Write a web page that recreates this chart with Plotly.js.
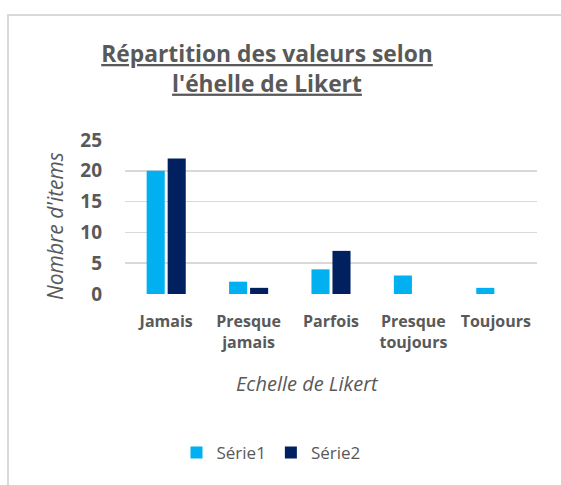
<!DOCTYPE html>
<html>
<head>
<meta charset="utf-8">
<script src="https://cdn.plot.ly/plotly-3.0.1.min.js"></script>
<style>
html,body{margin:0;padding:0;background:#fff;}
#wrap{position:relative;width:561px;height:485px;overflow:hidden;}
#chart{position:absolute;left:0;top:0;width:561px;height:485px;}
#frame{position:absolute;left:7px;top:14px;width:600px;height:600px;border-left:2px solid #d9d9d9;border-top:2px solid #d9d9d9;pointer-events:none;}
</style>
</head>
<body>
<div id="wrap"><div id="chart"></div><div id="frame"></div></div>
<script>
const categories = ['Jamais', 'Presque<br>jamais', 'Parfois', 'Presque<br>toujours', 'Toujours'];
const serie1 = [20, 2, 4, 3, 1];
const serie2 = [22, 1, 7, 0, 0];
const seriesNames = ['Série1', 'Série2'];
const yTicks = [0, 5, 10, 15, 20, 25];

const FONT = 'Open Sans, Lato, sans-serif';
const GREY = '#595959';

const data = [
  {type: 'bar', x: categories, y: serie1, name: seriesNames[0], marker: {color: '#00B0F0'}},
  {type: 'bar', x: categories, y: serie2, name: seriesNames[1], marker: {color: '#002060'}}
];

const layout = {
  width: 561, height: 485,
  margin: {l: 125, r: 24, t: 140, b: 191},
  paper_bgcolor: 'rgba(0,0,0,0)', plot_bgcolor: 'rgba(0,0,0,0)',
  font: {family: FONT, color: GREY},
  barmode: 'group', bargap: 0.49, bargroupgap: 0.14,
  title: {
    text: '<u>Répartition des valeurs selon</u><br><u>l\'éhelle de Likert</u>',
    font: {family: FONT, size: 22.8, color: GREY, weight: 'bold'},
    xref: 'container', x: 267/561, xanchor: 'center',
    yref: 'container', y: 1 - 62/485, yanchor: 'top'
  },
  xaxis: {
    type: 'category',
    showgrid: false, zeroline: false, showline: false, ticks: '',
    tickfont: {family: FONT, size: 16, color: GREY, weight: 'bold'},
    ticklabelstandoff: 16, tickangle: 0
  },
  yaxis: {
    range: [0, 25], tickvals: yTicks,
    showgrid: true, gridcolor: '#d9d9d9', gridwidth: 1.5,
    zeroline: false, showline: false, ticks: '',
    tickfont: {family: FONT, size: 19, color: GREY, weight: 'bold'},
    ticklabelstandoff: 22
  },
  showlegend: true,
  legend: {
    orientation: 'h', x: (271-125)/412, xanchor: 'center', y: (294-453)/154, yanchor: 'middle',
    font: {family: FONT, size: 17, color: GREY}, itemwidth: 30
  },
  annotations: [
    {text: '<i>Nombre d\'items</i>', xref: 'paper', yref: 'paper', x: (55-125)/412, y: (294-226)/154,
     xanchor: 'center', yanchor: 'middle', textangle: -90, showarrow: false,
     font: {family: FONT, size: 21, color: GREY}},
    {text: '<i>Echelle de Likert</i>', xref: 'paper', yref: 'paper', x: (307-125)/412, y: (294-383)/154,
     xanchor: 'center', yanchor: 'middle', showarrow: false,
     font: {family: FONT, size: 20, color: GREY}}
  ]
};

Plotly.newPlot('chart', data, layout, {displayModeBar: false, staticPlot: true});
</script>
</body>
</html>
